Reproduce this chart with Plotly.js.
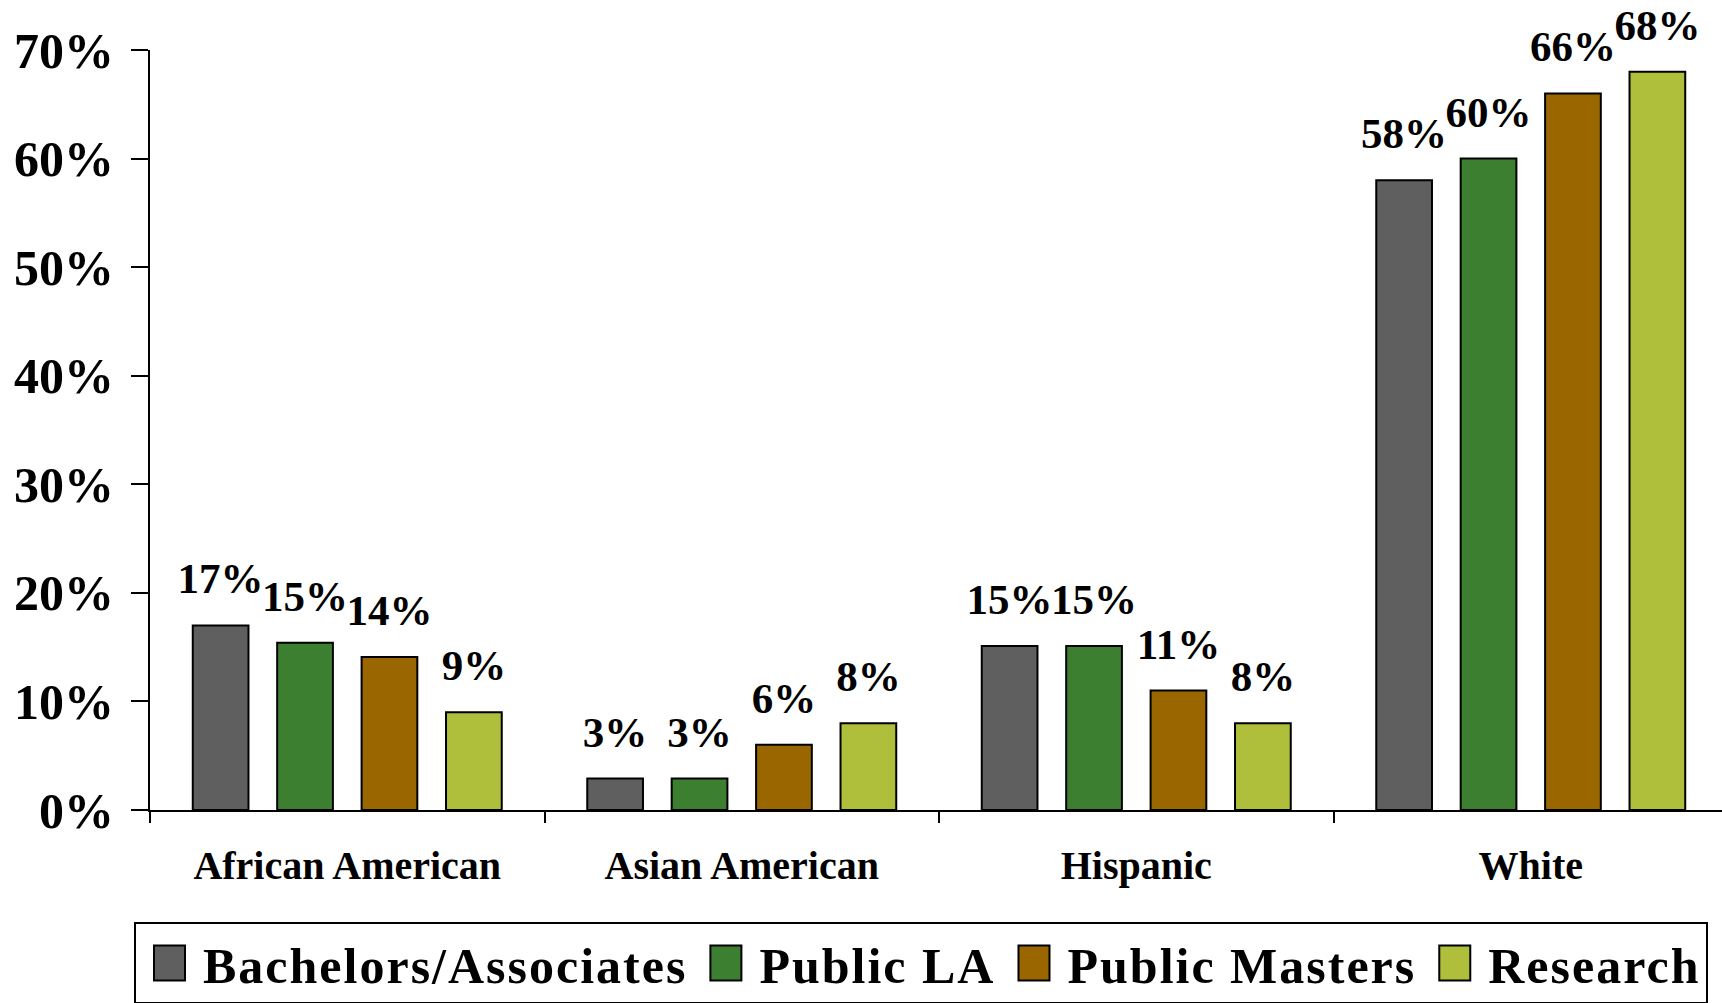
<!DOCTYPE html>
<html>
<head>
<meta charset="utf-8">
<script src="https://cdn.plot.ly/plotly-3.0.1.min.js"></script>
<style>
  html, body { margin: 0; padding: 0; background: #fff; overflow: hidden; }
  #chart { width: 1728px; height: 1003px; }
  .legendtext { letter-spacing: 2px; }
</style>
</head>
<body>
<div id="chart"></div>
<script>
  const groups = ["African American", "Asian American", "Hispanic", "White"];
  const seriesNames = ["Bachelors/Associates", "Public LA", "Public Masters", "Research"];
  const colors = ["#5f5f5f", "#3c7f31", "#996600", "#afbf3c"];

  const bachelors = [17, 2.9, 15.1, 58];
  const publicLA = [15.4, 2.9, 15.1, 60];
  const publicMasters = [14.1, 6, 11, 66];
  const research = [9, 8, 8, 68];

  const yTicks = [0, 10, 20, 30, 40, 50, 60, 70];
  const yTickText = ["0%", "10%", "20%", "30%", "40%", "50%", "60%", "70%"];

  const serif = "'Liberation Serif', 'Times New Roman', serif";

  const traces = [bachelors, publicLA, publicMasters, research].map((vals, i) => {
    return {
      type: "bar",
      name: seriesNames[i],
      x: groups,
      y: vals,
      marker: { color: colors[i], line: { color: "#000", width: 2 } },
      texttemplate: "%{y:.0f}%",
      textposition: "outside",
      constraintext: "none",
      cliponaxis: false,
      textfont: { family: serif, size: 43, color: "#000", weight: "bold" },
      hoverinfo: "skip",
    };
  });

  const layout = {
    width: 1728,
    height: 1003,
    margin: { l: 150, r: 0, t: 50, b: 193 },
    paper_bgcolor: "#fff",
    plot_bgcolor: "#fff",
    barmode: "group",
    bargap: 0.144,
    bargroupgap: 0.34,
    font: { family: serif, color: "#000" },
    xaxis: {
      type: "category",
      showline: true,
      linecolor: "#000",
      linewidth: 2,
      ticks: "outside",
      tickson: "boundaries",
      ticklen: 11,
      tickwidth: 2,
      tickcolor: "#000",
      ticklabelstandoff: 19,
      tickfont: { family: serif, size: 40, color: "#000", weight: "bold" },
      showgrid: false,
      zeroline: false,
      fixedrange: true,
    },
    yaxis: {
      range: [0, 70],
      tickvals: yTicks,
      ticktext: yTickText,
      showline: true,
      linecolor: "#000",
      linewidth: 2,
      ticks: "outside",
      ticklen: 17,
      tickwidth: 2,
      tickcolor: "#000",
      ticklabelstandoff: 7,
      tickfont: { family: serif, size: 50, color: "#000", weight: "bold" },
      showgrid: false,
      zeroline: false,
      fixedrange: true,
    },
    showlegend: true,
    legend: {
      orientation: "h",
      xref: "container",
      yref: "container",
      x: 134 / 1728,
      y: 1 - 922 / 1003,
      xanchor: "left",
      yanchor: "top",
      bordercolor: "#000",
      borderwidth: 2,
      itemwidth: 57,
      font: { family: serif, size: 50, color: "#000", weight: "bold" },
    },
  };

  Plotly.newPlot("chart", traces, layout, { staticPlot: true, displayModeBar: false }).then((gd) => {
    // bigger legend swatches like the original
    gd.querySelectorAll(".legend .legendpoints path").forEach((p) => {
      p.setAttribute("d", "M15.5,17.5H-15.5V-17.5H15.5Z");
    });
    // value labels sit a bit higher above the bars
    gd.querySelectorAll("text.bartext").forEach((t) => {
      t.setAttribute("transform", "translate(0,-20) " + (t.getAttribute("transform") || ""));
    });
  });
</script>
</body>
</html>
